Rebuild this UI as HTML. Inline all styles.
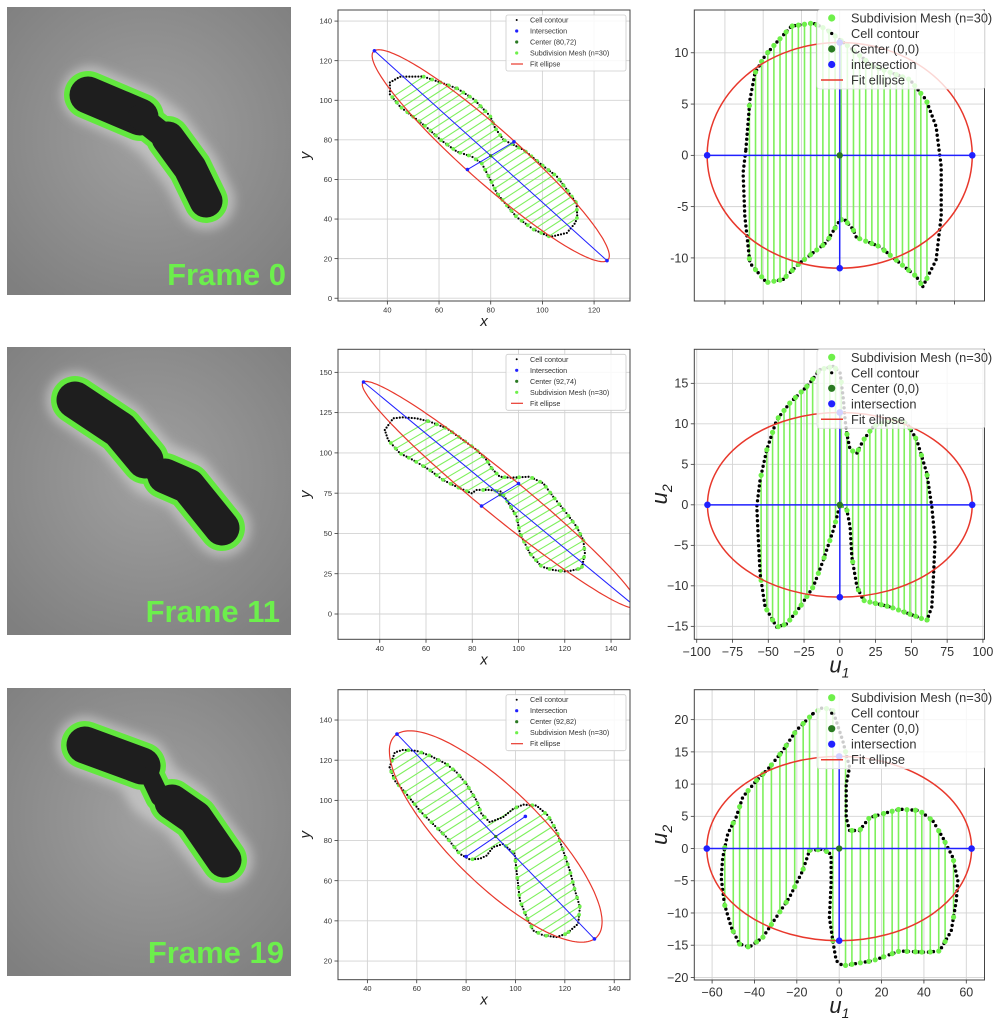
<!DOCTYPE html>
<html><head><meta charset="utf-8"><title>Cell subdivision mesh figure</title>
<style>
html,body{margin:0;padding:0;background:#fff;}
svg{display:block;font-family:"Liberation Sans","DejaVu Sans",sans-serif;}
</style></head>
<body>
<svg id="fig" width="996" height="1024" viewBox="0 0 996 1024" xmlns="http://www.w3.org/2000/svg">
<defs>
<radialGradient id="bg1" cx="50%" cy="45%" r="70%"><stop offset="0" stop-color="#a0a0a0"/><stop offset="1" stop-color="#7f7f7f"/></radialGradient>
<filter id="blur1" x="-50%" y="-50%" width="200%" height="200%"><feGaussianBlur stdDeviation="5"/></filter>
</defs>
<g>
<rect x="7" y="7" width="284" height="288" fill="url(#bg1)"/>
<g fill="none" stroke-linecap="round" stroke-linejoin="round">
<polyline points="90,95 138,116 162,134 190,170 206,201" stroke="#dcdcdc" stroke-width="58" filter="url(#blur1)" opacity="0.55"/>
<polyline points="88,95 140,117" stroke="#62e83e" stroke-width="48"/>
<polyline points="140,117 160,133" stroke="#62e83e" stroke-width="36"/>
<polyline points="168,138 190,168 206,201" stroke="#62e83e" stroke-width="44"/>
<polyline points="88,95 140,117" stroke="#1e1e1e" stroke-width="37"/>
<polyline points="140,117 160,133" stroke="#1e1e1e" stroke-width="25"/>
<polyline points="168,138 190,168 206,201" stroke="#1e1e1e" stroke-width="33"/>
</g>
<text x="286" y="285" text-anchor="end" font-size="31" font-weight="bold" fill="#6cef4c">Frame 0</text>
</g>
<g>
<rect x="7" y="347" width="284" height="288" fill="url(#bg1)"/>
<g fill="none" stroke-linecap="round" stroke-linejoin="round">
<polyline points="75,400 120,430 153,468 185,482 222,528" stroke="#dcdcdc" stroke-width="58" filter="url(#blur1)" opacity="0.55"/>
<polyline points="75,400 120,430 145,460" stroke="#62e83e" stroke-width="48"/>
<polyline points="145,460 160,475" stroke="#62e83e" stroke-width="34"/>
<polyline points="165,476 188,486 222,528" stroke="#62e83e" stroke-width="46"/>
<polyline points="75,400 120,430 145,460" stroke="#1e1e1e" stroke-width="37"/>
<polyline points="145,460 160,475" stroke="#1e1e1e" stroke-width="23"/>
<polyline points="165,476 188,486 222,528" stroke="#1e1e1e" stroke-width="35"/>
</g>
<text x="280" y="622" text-anchor="end" font-size="31" font-weight="bold" fill="#6cef4c">Frame 11</text>
</g>
<g>
<rect x="7" y="688" width="284" height="288" fill="url(#bg1)"/>
<g fill="none" stroke-linecap="round" stroke-linejoin="round">
<polyline points="85,745 140,765 155,790 185,810 224,860" stroke="#dcdcdc" stroke-width="58" filter="url(#blur1)" opacity="0.55"/>
<polyline points="85,745 142,766" stroke="#62e83e" stroke-width="48"/>
<polyline points="150,776 160,797" stroke="#62e83e" stroke-width="30"/>
<polyline points="172,802 195,818 224,860" stroke="#62e83e" stroke-width="46"/>
<polyline points="85,745 142,766" stroke="#1e1e1e" stroke-width="37"/>
<polyline points="150,776 160,797" stroke="#1e1e1e" stroke-width="19"/>
<polyline points="172,802 195,818 224,860" stroke="#1e1e1e" stroke-width="35"/>
</g>
<text x="284" y="963" text-anchor="end" font-size="31" font-weight="bold" fill="#6cef4c">Frame 19</text>
</g>
</svg>
<script>
// ---------- DATA ----------
const mid1X=[41,44.9,53.9,60.6,67,73.5,79.8,81.7,85,92.7,100.5,105.6,109.5,113.2,113.5,112.7,109.5,103,96.6,90,82.4,79.8,76.6,72.8,67,60.6,55,45,41];
const mid1Y=[109,111.9,112,109,106,100.5,92,86,80,75,66.6,61.5,54.8,48,41,38,33,31,34.7,41,53,60,68,71.5,74,80,86.6,96.7,103];
const mid2X=[42.2,45.8,50.1,55.9,61.6,68.9,76.1,81.9,86.2,88.4,91.9,96.3,104.9,110.7,115,120.8,125.1,128,128.7,127.3,120.8,115,110,104.9,100.6,99.2,94.8,92.7,87.6,81.9,79.7,73.2,67.4,61.6,54.4,48.7,43.6];
const mid2Y=[114.2,121.5,122.1,121.5,119.4,115.3,108,101.8,95.6,90.4,85.2,84.6,85.2,81.1,72.8,62.5,54.2,45.9,37.7,28.4,26.3,27.3,29.4,37.7,50.1,60.4,70.8,75.9,77,77,74.9,79,83.2,89.4,95.6,99.8,108];
const mid3X=[49,51.1,54.4,59.9,65.3,72,76.1,80.1,84.2,86.2,89.6,95,99,103.1,108.5,113.2,116.6,119.3,122,124.1,126.1,125.4,120.7,116.6,111.2,107.2,104.5,101.8,100.4,99.7,95,90.9,88.3,85.5,81.5,77.4,72,66.6,61.2,55.8,51.1];
const mid3Y=[116.5,123.9,125.1,124.7,122.3,118.1,114,108.2,99.9,93.3,89.1,91.6,95.7,97.9,97.4,92.4,85,75,65.1,55.1,46.9,38.6,33.6,31.9,32.8,35.2,41.9,50.2,65.1,73.4,78.3,76.7,72.5,70.9,70.6,73.4,81.7,88.3,94.9,103.2,109.8];
const centers=[[80,72],[92,74],[92,82]];
const majorEnds=[[125,19],[151,4],[132,31]];
const minorEnds=[[89,79],[100,81],[104,92]];
const ellipseMinor=[[9,7.5],[8,7],[16,13]];
const r1U1=[-61.3,-58.7,-55.4,-48.9,-41.3,-31.5,-17.4,-8.7,0,21.7,45.7,56.5,63,66.3,66.3,63,54.3,50,26.1,10.9,8.7,2.2,-1.1,-8.7,-26.1,-37,-47.8,-58.7,-62,-63.1];
const r1U2=[0.6,5.4,8.0,9.7,11.0,12.6,12.9,12.3,11.3,8.7,7.4,5.4,2.8,-1.1,-5.9,-10.2,-12.8,-11.8,-8.9,-8.0,-7.2,-6.1,-6.6,-8.5,-10.5,-12.1,-12.4,-10.5,-5.9,-1.7];
const r2U1=[-13.8,-23.1,-34.8,-44.1,-51,-55.7,-58,-56.9,-55.7,-52.2,-44.1,-37.1,-27.8,-18.5,-11.5,-4.5,0.2,4.9,7.2,8.4,11.9,16.5,35.2,53.8,60.8,64.3,65.5,66.6,64.3,60.8,53.8,46.9,37.5,23.5,16.5,11.9,7.2,4.9,3.7,2.5,0.2,-4.5];
const r2U2=[16.7,14.6,12.6,10.5,6.8,3.1,-0.2,-4.4,-8.5,-12.6,-15.1,-14.7,-12.6,-10.1,-6.8,-3.1,0,-0.6,-2.7,-6.4,-10.1,-11.8,-12.6,-13.8,-14.3,-12.6,-8.5,-4.4,-0.2,3.9,8.0,10.1,10.5,9.7,8.0,6.4,6.8,8.8,10.5,13.0,16.3,17.1];
const r3U1=[-12.5,-20.3,-26.6,-32.9,-39.2,-45.5,-48.7,-52.6,-55,-55.7,-54.2,-51,-47.1,-42.4,-36.1,-29.8,-23.5,-17.2,-14,-7.7,-3.8,-3.8,-4.6,-3.0,-1.4,1.7,15.9,28.5,41.1,47.4,52.9,55.3,56,53.7,48.9,44.2,37.9,28.5,20.6,14.3,9.6,4.9,3.3,3.3,4.9,1.7,-3,-7.7];
const r3U2=[20.9,18.3,15.2,12.6,10.5,8.0,4.8,2.3,-1.4,-4.5,-8.6,-12.2,-14.8,-15.3,-13.8,-10.7,-7.6,-3.4,-0.3,-0.1,-0.9,-5.5,-10.7,-14.3,-17.4,-18.2,-17.4,-15.9,-16.1,-15.9,-12.8,-8.1,-5.0,-1.4,1.7,4.3,5.9,6.1,5.4,4.8,2.8,2.8,4.8,10.0,12.6,16.7,21.4,21.9];
const semiMajorU=[86.6,92.5,62.5];
const semiMinorU=[11,11.4,14.3];
const mesh1=[-59,-55,-51,-47,-43,-39,-35,-31,-27,-23,-19,-15,-11,-7,-3,1,5,9,13,17,21,25,29,33,37,41,45,49,53,57];
const mesh2=[-55,-51,-47,-43,-39,-35,-31,-27,-23,-19,-15,-11,-7,-3,1,5,9,13,17,21,25,29,33,37,41,45,49,53,57,61];
const mesh3=[-54,-50,-47,-43,-39,-36,-32,-28,-25,-21,-17,-14,-10,-6,-3,3,6,10,14,17,21,25,28,32,36,39,43,47,50,54];
const midXTicks=[[40,60,80,100,120],[40,60,80,100,120,140],[40,60,80,100,120,140]];
const midYTicks=[[0,20,40,60,80,100,120,140],[0,25,50,75,100,125,150],[20,40,60,80,100,120,140]];
const rightXTicks=[[-75,-50,-25,0,25,50,75],[-100,-75,-50,-25,0,25,50,75,100],[-60,-40,-20,0,20,40,60]];
const rightYTicks=[[-10,-5,0,5,10],[-15,-10,-5,0,5,10,15],[-20,-15,-10,-5,0,5,10,15,20]];
const centerLabels=["Center (80,72)","Center (92,74)","Center (92,82)"];

// ---------- LAYOUT ----------
const tops=[10,349.3,689.7], bots=[301,639.3,979.7];
const midRange=[[20.9,133.9,-1.4,145.6],[21.95,148.2,-15.7,164.3],[28.1,146.4,10.7,155.1]];
const rightRange=[[-95,94.6,-14.2,14.17],[-101.7,101.1,-16.6,19.2],[-68.4,68.6,-20.4,24.65]];
const meshScale=[0.8,1.0,1.03];
const rightBots=[301,639.3,980];

const NS='http://www.w3.org/2000/svg';
const svg=document.getElementById('fig');
function mk(tag,attrs,parent){const e=document.createElementNS(NS,tag);for(const k in attrs)e.setAttribute(k,attrs[k]);parent.appendChild(e);return e;}
function fmt(v,uni){const s=String(v);return (uni&&v<0)?'\u2212'+s.slice(1):s;}
function crossI(a,b){return a[0]*b[1]-a[1]*b[0];}
function lineHits(xs,ys,p,n){const hits=[];const N=xs.length;for(let i=0;i<N;i++){const P=[xs[i],ys[i]],Q=[xs[(i+1)%N],ys[(i+1)%N]];const e=[Q[0]-P[0],Q[1]-P[1]];const den=crossI(n,e);if(Math.abs(den)<1e-9)continue;const d=[P[0]-p[0],P[1]-p[1]];const s=crossI(d,e)/den;const w=crossI(d,n)/den;if(w>=0&&w<1)hits.push(s);}return hits;}

function axesFrame(g,l,r,t,b,sx,sy,xt,yt,fs,uni,showXLabels,defsId){
  for(const v of xt){const X=sx(v);
    const gl=mk('line',{x1:X,x2:X,y1:t,y2:b,stroke:'#d3d3d3','stroke-width':0.9},g);
    
    
    const tk=mk('line',{x1:X,x2:X,y1:b,y2:b+3.5,stroke:'#333','stroke-width':0.8},g);
    
    
    if(showXLabels){const tl=mk('text',{x:X,y:b+fs+4,'text-anchor':'middle','font-size':fs,fill:'#333'},g);tl.textContent=fmt(v,uni);
      
      }
  }
  for(const v of yt){const Y=sy(v);
    const gl=mk('line',{x1:l,x2:r,y1:Y,y2:Y,stroke:'#d3d3d3','stroke-width':0.9},g);
    
    
    const tk=mk('line',{x1:l-3.5,x2:l,y1:Y,y2:Y,stroke:'#333','stroke-width':0.8},g);
    
    
    const tl=mk('text',{x:l-6,y:Y+fs*0.35,'text-anchor':'end','font-size':fs,fill:'#333'},g);tl.textContent=fmt(v,uni);
    
    
  }
  const cp=mk('clipPath',{id:defsId},g);mk('rect',{x:l,y:t,width:r-l,height:b-t},cp);
}
function border(g,l,r,t,b){const f=mk('rect',{x:l,y:t,width:r-l,height:b-t,fill:'none',stroke:'#444','stroke-width':1},g);
  
  }

// ---------- MIDDLE PLOTS ----------
const midXs=[mid1X,mid2X,mid3X], midYs=[mid1Y,mid2Y,mid3Y], meshes=[mesh1,mesh2,mesh3];
for(let k=0;k<3;k++){
  const l=338,r=630,t=tops[k],b=bots[k];const [x0,x1,y0,y1]=midRange[k];
  const sx=v=>l+(v-x0)/(x1-x0)*(r-l), sy=v=>b-(v-y0)/(y1-y0)*(b-t);
  const g=mk('g',{},svg);
  
  
  axesFrame(g,l,r,t,b,sx,sy,midXTicks[k],midYTicks[k],7.5,false,true,'clipM'+k);
  const pg=mk('g',{'clip-path':'url(#clipM'+k+')'},g);
  const c=centers[k],me=majorEnds[k],mi=minorEnds[k];
  const A=[me[0]-c[0],me[1]-c[1]],B=[mi[0]-c[0],mi[1]-c[1]],E=ellipseMinor[k];
  const aLen=Math.hypot(A[0],A[1]);const d=[A[0]/aLen,A[1]/aLen];const n=[-d[1],d[0]];
  const xs=midXs[k],ys=midYs[k];const ends=[];
  for(const u of meshes[k]){const tp=u*meshScale[k];
    const p=[c[0]+tp*d[0],c[1]+tp*d[1]];const h=lineHits(xs,ys,p,n);if(h.length<2)continue;
    const s0=Math.min(...h),s1=Math.max(...h);
    const P0=[p[0]+s0*n[0],p[1]+s0*n[1]],P1=[p[0]+s1*n[0],p[1]+s1*n[1]];
    const ml=mk('line',{x1:sx(P0[0]),y1:sy(P0[1]),x2:sx(P1[0]),y2:sy(P1[1]),stroke:'#7ef05c','stroke-width':1.1},pg);
    
    
    ends.push(P0,P1);}
  let dstr='';for(let i=0;i<xs.length;i++)dstr+=(i?'L':'M')+sx(xs[i]).toFixed(1)+','+sy(ys[i]).toFixed(1);dstr+='Z';
  const cont=mk('path',{d:dstr,fill:'none',stroke:'#000','stroke-width':2.2,'stroke-dasharray':'0 3','stroke-linecap':'round'},pg);
  
  
  for(const P of ends){const dot=mk('circle',{cx:sx(P[0]),cy:sy(P[1]),r:1.9,fill:'#6ef04a'},pg);
    
    }
  let ed='';for(let i=0;i<=180;i++){const th=i/180*2*Math.PI;const X=c[0]+Math.cos(th)*A[0]+Math.sin(th)*E[0],Y=c[1]+Math.cos(th)*A[1]+Math.sin(th)*E[1];ed+=(i?'L':'M')+sx(X).toFixed(1)+','+sy(Y).toFixed(1);}
  const el=mk('path',{d:ed,fill:'none',stroke:'#e8382c','stroke-width':1.2},pg);
  
  
  const ma=mk('line',{x1:sx(c[0]-A[0]),y1:sy(c[1]-A[1]),x2:sx(c[0]+A[0]),y2:sy(c[1]+A[1]),stroke:'#2020ff','stroke-width':1},pg);
  
  
  const mn=mk('line',{x1:sx(c[0]-B[0]),y1:sy(c[1]-B[1]),x2:sx(c[0]+B[0]),y2:sy(c[1]+B[1]),stroke:'#2020ff','stroke-width':1},pg);
  
  
  for(const P of [[c[0]-A[0],c[1]-A[1]],[c[0]+A[0],c[1]+A[1]],[c[0]-B[0],c[1]-B[1]],[c[0]+B[0],c[1]+B[1]]]){
    const ip=mk('circle',{cx:sx(P[0]),cy:sy(P[1]),r:1.8,fill:'#2020ff'},pg);
    
    }
  const cd=mk('circle',{cx:sx(c[0]),cy:sy(c[1]),r:1.6,fill:'#2a7a22'},pg);
  
  
  border(g,l,r,t,b);
  const xl=mk('text',{x:(l+r)/2,y:b+25,'text-anchor':'middle','font-size':15,'font-style':'italic',fill:'#222'},g);xl.textContent='x';
  
  
  const yl=mk('text',{x:0,y:0,'text-anchor':'middle','font-size':15,'font-style':'italic',fill:'#222',transform:'translate(310,'+((t+b)/2)+') rotate(-90)'},g);yl.textContent='y';
  
  
  const lg=mk('g',{},g);
  
  
  mk('rect',{x:506,y:t+5,width:120,height:56,rx:2,fill:'#fff','fill-opacity':0.85,stroke:'#ccc','stroke-width':0.8},lg);
  const labs=['Cell contour','Intersection',centerLabels[k],'Subdivision Mesh (n=30)','Fit ellipse'];
  const cols=['#000','#2020ff','#2a7a22','#6ef04a','#e8382c'];
  for(let i=0;i<5;i++){const yy=t+10+i*11;
    if(i<4){const m=mk('circle',{cx:516.7,cy:yy,r:i==0?1:1.6,fill:cols[i]},lg);
      
      }
    else{const m=mk('line',{x1:511,x2:523,y1:yy,y2:yy,stroke:cols[i],'stroke-width':1.2},lg);
      
      }
    const tx=mk('text',{x:530,y:yy+2.5,'font-size':7.2,fill:'#333'},lg);tx.textContent=labs[i];
    
    }
}

// ---------- RIGHT PLOTS ----------
const rU1=[r1U1,r2U1,r3U1], rU2=[r1U2,r2U2,r3U2];
for(let k=0;k<3;k++){
  const l=694.3,r=984.5,t=tops[k],b=rightBots[k];const [x0,x1,y0,y1]=rightRange[k];
  const sx=v=>l+(v-x0)/(x1-x0)*(r-l), sy=v=>b-(v-y0)/(y1-y0)*(b-t);
  const g=mk('g',{},svg);
  
  
  axesFrame(g,l,r,t,b,sx,sy,rightXTicks[k],rightYTicks[k],12.5,k>0,k>0,'clipR'+k);
  const pg=mk('g',{'clip-path':'url(#clipR'+k+')'},g);
  const xs=rU1[k],ys=rU2[k];const ends=[];
  for(const u of meshes[k]){const h=lineHits(xs,ys,[u,0],[0,1]);if(h.length<2)continue;
    const s0=Math.min(...h),s1=Math.max(...h);
    const ml=mk('line',{x1:sx(u),y1:sy(s0),x2:sx(u),y2:sy(s1),stroke:'#7ef05c','stroke-width':1.6},pg);
    
    
    ends.push([u,s0],[u,s1]);}
  let dstr='';for(let i=0;i<xs.length;i++)dstr+=(i?'L':'M')+sx(xs[i]).toFixed(1)+','+sy(ys[i]).toFixed(1);dstr+='Z';
  const cont=mk('path',{d:dstr,fill:'none',stroke:'#000','stroke-width':3.4,'stroke-dasharray':'0 5','stroke-linecap':'round'},pg);
  
  
  for(const P of ends){const dot=mk('circle',{cx:sx(P[0]),cy:sy(P[1]),r:2.6,fill:'#6ef04a'},pg);
    
    }
  const A=semiMajorU[k],B=semiMinorU[k];
  const el=mk('ellipse',{cx:sx(0),cy:sy(0),rx:sx(A)-sx(0),ry:sy(0)-sy(B),fill:'none',stroke:'#e8382c','stroke-width':1.5},pg);
  
  
  const ma=mk('line',{x1:sx(-A),y1:sy(0),x2:sx(A),y2:sy(0),stroke:'#2020ff','stroke-width':1.5},pg);
  
  
  const mn=mk('line',{x1:sx(0),y1:sy(-B),x2:sx(0),y2:sy(B),stroke:'#2020ff','stroke-width':1.5},pg);
  
  
  for(const P of [[-A,0],[A,0],[0,-B],[0,B]]){const ip=mk('circle',{cx:sx(P[0]),cy:sy(P[1]),r:3.3,fill:'#2020ff'},pg);
    
    }
  const cd=mk('circle',{cx:sx(0),cy:sy(0),r:3.2,fill:'#2a7a22'},pg);
  
  
  border(g,l,r,t,b);
  if(k>0){
    const xl=mk('text',{x:(l+r)/2,y:b+33,'text-anchor':'middle','font-size':22,'font-style':'italic',fill:'#222'},g);
    xl.innerHTML='u<tspan font-size="14" dy="5">1</tspan>';
    
    
    const yl=mk('text',{x:0,y:0,'text-anchor':'middle','font-size':22,'font-style':'italic',fill:'#222',transform:'translate(667,'+((t+b)/2)+') rotate(-90)'},g);
    yl.innerHTML='u<tspan font-size="14" dy="5">2</tspan>';
    
    
  }
  const lg=mk('g',{},g);
  
  
  mk('rect',{x:817,y:t,width:168,height:79,rx:3,fill:'#fff','fill-opacity':0.8,stroke:'#ddd','stroke-width':0.8},lg);
  const labs=['Subdivision Mesh (n=30)','Cell contour','Center (0,0)','intersection','Fit ellipse'];
  const cols=['#6ef04a','#000','#2a7a22','#2020ff','#e8382c'];
  const rads=[3.6,1.6,3.6,3.6];
  for(let i=0;i<5;i++){const yy=t+8+i*15.5;
    if(i<4){const m=mk('circle',{cx:831.7,cy:yy,r:rads[i],fill:cols[i]},lg);
      
      }
    else{const m=mk('line',{x1:821,x2:843,y1:yy,y2:yy,stroke:cols[i],'stroke-width':1.5},lg);
      
      }
    const tx=mk('text',{x:851,y:yy+4.5,'font-size':12.8,fill:'#333'},lg);tx.textContent=labs[i];
    
    }
}
</script>
</body></html>
